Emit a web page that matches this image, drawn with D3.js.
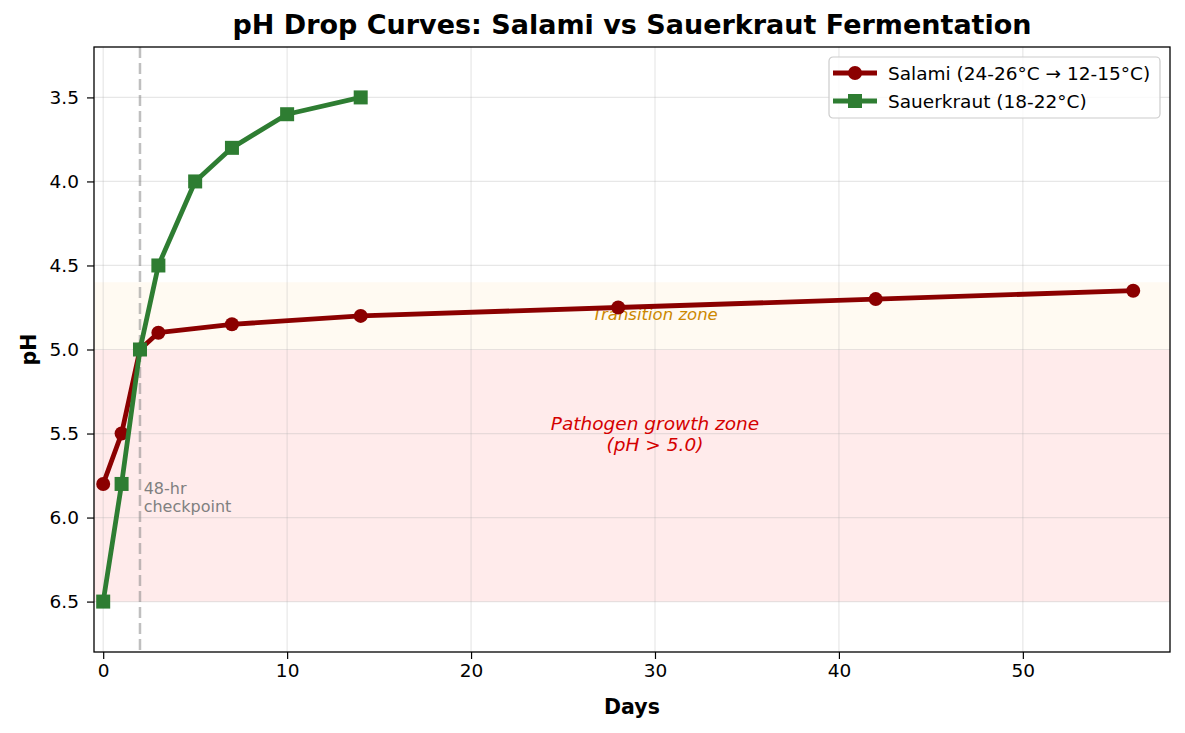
<!DOCTYPE html>
<html>
<head>
<meta charset="utf-8">
<script src="https://cdn.jsdelivr.net/npm/d3@7"></script>
<style>
  body { margin: 0; background: #fff; }
  svg { font-family: 'DejaVu Sans', sans-serif; }
</style>
</head>
<body>
<div id="chart"><svg width="1185" height="733"></svg></div>
<script>
// data
const SALAMI_DAYS = [0, 1, 2, 3, 7, 14, 28, 42, 56];
const SALAMI_PH = [5.8, 5.5, 5.0, 4.9, 4.85, 4.8, 4.75, 4.7, 4.65];
const KRAUT_DAYS = [0, 1, 2, 3, 5, 7, 10, 14];
const KRAUT_PH = [6.5, 5.8, 5.0, 4.5, 4.0, 3.8, 3.6, 3.5];
const X_TICKS = [0, 10, 20, 30, 40, 50];
const Y_TICKS = [3.5, 4.0, 4.5, 5.0, 5.5, 6.0, 6.5];

const salami = SALAMI_DAYS.map((d, i) => ({ day: d, ph: SALAMI_PH[i] }));
const kraut = KRAUT_DAYS.map((d, i) => ({ day: d, ph: KRAUT_PH[i] }));

const SVG = d3.select('#chart svg');
const LEFT = 94, RIGHT = 1170, TOP = 47, BOTTOM = 652;
const MS = 7; // marker half size

const X_SCALE = d3.scaleLinear().domain([-0.5, 58]).range([LEFT, RIGHT]);
const Y_SCALE = d3.scaleLinear().domain([3.2, 6.8]).range([TOP, BOTTOM]);

// zone bands
SVG.append('rect')
  .attr('x', LEFT).attr('width', RIGHT - LEFT)
  .attr('y', Y_SCALE(5.0)).attr('height', Y_SCALE(6.5) - Y_SCALE(5.0))
  .style('fill', '#ffebeb');
SVG.append('rect')
  .attr('x', LEFT).attr('width', RIGHT - LEFT)
  .attr('y', Y_SCALE(4.6)).attr('height', Y_SCALE(5.0) - Y_SCALE(4.6))
  .style('fill', '#fffaf2');

// grid
const GRID = SVG.append('g').attr('id', 'grid');
GRID.selectAll('.gx').data(X_TICKS).join('line')
  .attr('x1', d => X_SCALE(d)).attr('x2', d => X_SCALE(d))
  .attr('y1', TOP).attr('y2', BOTTOM);
GRID.selectAll('.gy').data(Y_TICKS).join('line')
  .attr('class', 'gy')
  .attr('x1', LEFT).attr('x2', RIGHT)
  .attr('y1', d => Y_SCALE(d)).attr('y2', d => Y_SCALE(d));
GRID.selectAll('line')
  .style('stroke', '#b0b0b0')
  .style('stroke-opacity', 0.3)
  .style('stroke-width', 1.2);

// 48-hr checkpoint
SVG.append('line')
  .attr('x1', X_SCALE(2)).attr('x2', X_SCALE(2))
  .attr('y1', TOP).attr('y2', BOTTOM)
  .style('stroke', '#808080')
  .style('stroke-opacity', 0.5)
  .style('stroke-width', 2.5)
  .style('stroke-dasharray', '11,5');

const CHECK = SVG.append('text')
  .attr('x', X_SCALE(2.2))
  .attr('y', Y_SCALE(5.86))
  .style('fill', '#808080')
  .style('font-size', '16px');
CHECK.append('tspan').attr('x', X_SCALE(2.2)).text('48-hr');
CHECK.append('tspan').attr('x', X_SCALE(2.2)).attr('dy', 18).text('checkpoint');

// zone labels
SVG.append('text')
  .attr('x', X_SCALE(30)).attr('y', Y_SCALE(4.8) + 4)
  .style('text-anchor', 'middle')
  .style('font-style', 'italic')
  .style('font-size', '16.5px')
  .style('fill', '#cc8800')
  .text('Transition zone');

const PATH_TXT = SVG.append('text')
  .attr('x', X_SCALE(30)).attr('y', Y_SCALE(5.5) - 4)
  .style('text-anchor', 'middle')
  .style('font-style', 'italic')
  .style('font-size', '18.5px')
  .style('fill', '#d40000');
PATH_TXT.append('tspan').attr('x', X_SCALE(30)).text('Pathogen growth zone');
PATH_TXT.append('tspan').attr('x', X_SCALE(30)).attr('dy', 21).text('(pH > 5.0)');

// lines
const LINE = d3.line().x(d => X_SCALE(d.day)).y(d => Y_SCALE(d.ph));

SVG.append('path')
  .datum(salami)
  .attr('d', LINE)
  .style('fill', 'none')
  .style('stroke', '#8b0000')
  .style('stroke-width', 4.8)
  .style('stroke-linejoin', 'round');
SVG.selectAll('.salamiDot').data(salami).join('circle')
  .attr('class', 'salamiDot')
  .attr('cx', d => X_SCALE(d.day))
  .attr('cy', d => Y_SCALE(d.ph))
  .attr('r', MS)
  .style('fill', '#8b0000');

SVG.append('path')
  .datum(kraut)
  .attr('d', LINE)
  .style('fill', 'none')
  .style('stroke', '#2e7d32')
  .style('stroke-width', 4.8)
  .style('stroke-linejoin', 'round');
SVG.selectAll('.krautDot').data(kraut).join('rect')
  .attr('class', 'krautDot')
  .attr('x', d => X_SCALE(d.day) - MS)
  .attr('y', d => Y_SCALE(d.ph) - MS)
  .attr('width', MS * 2).attr('height', MS * 2)
  .style('fill', '#2e7d32');

// axes
const X_AXIS = d3.axisBottom(X_SCALE).tickValues(X_TICKS).tickFormat(d3.format('d')).tickSize(7).tickPadding(5);
const X_AXIS_G = SVG.append('g').attr('transform', `translate(0,${BOTTOM})`);
X_AXIS(X_AXIS_G);
const Y_AXIS = d3.axisLeft(Y_SCALE).tickValues(Y_TICKS).tickFormat(d3.format('.1f')).tickSize(7).tickPadding(8);
const Y_AXIS_G = SVG.append('g').attr('transform', `translate(${LEFT},0)`);
Y_AXIS(Y_AXIS_G);
[X_AXIS_G, Y_AXIS_G].forEach(g => {
  g.select('.domain').remove();
  g.selectAll('text').style('font-size', '18.5px').style('fill', '#000').style('font-family', 'DejaVu Sans');
  g.selectAll('line').style('stroke', '#000').style('stroke-width', 1.2);
});

// frame
SVG.append('rect')
  .attr('x', LEFT).attr('y', TOP)
  .attr('width', RIGHT - LEFT).attr('height', BOTTOM - TOP)
  .style('fill', 'none')
  .style('stroke', '#000')
  .style('stroke-width', 1.3);

// titles
SVG.append('text')
  .attr('x', (LEFT + RIGHT) / 2).attr('y', 34)
  .style('text-anchor', 'middle')
  .style('font-weight', 'bold')
  .style('font-size', '27px')
  .text('pH Drop Curves: Salami vs Sauerkraut Fermentation');
SVG.append('text')
  .attr('x', (LEFT + RIGHT) / 2).attr('y', 714)
  .style('text-anchor', 'middle')
  .style('font-weight', 'bold')
  .style('font-size', '20.5px')
  .text('Days');
SVG.append('text')
  .attr('transform', `translate(36,${(TOP + BOTTOM) / 2}) rotate(-90)`)
  .style('text-anchor', 'middle')
  .style('font-weight', 'bold')
  .style('font-size', '20.5px')
  .text('pH');

// legend
const LEG = SVG.append('g').attr('transform', 'translate(829,57)');
LEG.append('rect')
  .attr('width', 331).attr('height', 61)
  .attr('rx', 4)
  .style('fill', '#fff')
  .style('fill-opacity', 0.8)
  .style('stroke', '#cccccc')
  .style('stroke-width', 1.2);
const LEG_ITEMS = [
  { label: 'Salami (24-26°C → 12-15°C)', color: '#8b0000', shape: 'circle' },
  { label: 'Sauerkraut (18-22°C)', color: '#2e7d32', shape: 'square' }
];
LEG_ITEMS.forEach((item, i) => {
  const y = 16 + i * 28;
  LEG.append('line')
    .attr('x1', 4).attr('x2', 48).attr('y1', y).attr('y2', y)
    .style('stroke', item.color).style('stroke-width', 4.8);
  if (item.shape === 'circle') {
    LEG.append('circle').attr('cx', 26).attr('cy', y).attr('r', MS).style('fill', item.color);
  } else {
    LEG.append('rect').attr('x', 26 - MS).attr('y', y - MS).attr('width', MS * 2).attr('height', MS * 2).style('fill', item.color);
  }
  LEG.append('text')
    .attr('x', 59).attr('y', y + 6.5)
    .style('font-size', '18.5px')
    .text(item.label);
});
</script>
</body>
</html>
